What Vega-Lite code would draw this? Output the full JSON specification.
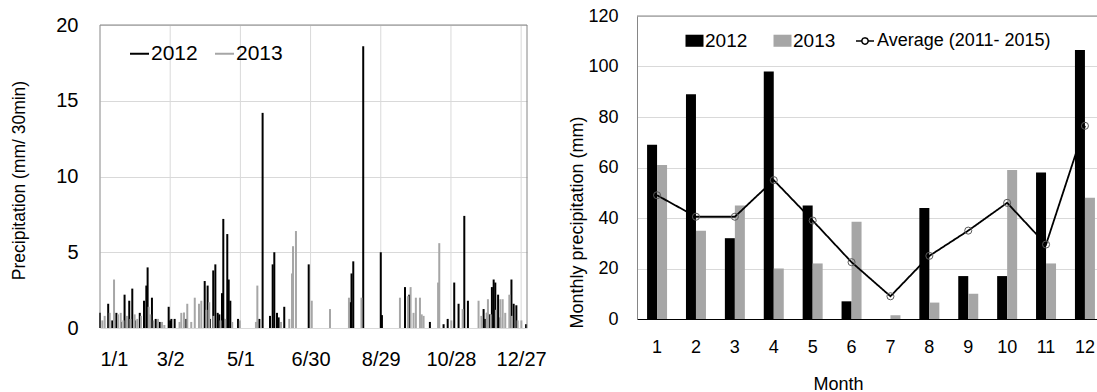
{
 "$schema": "https://vega.github.io/schema/vega-lite/v6.json",
 "padding": {"left": 10, "top": 7, "right": 0, "bottom": 0},
 "config": {
  "font": "Liberation Sans",
  "view": {"stroke": null},
  "axis": {"labelColor": "#000", "titleColor": "#000", "titleFontWeight": "normal", "ticks": false, "gridColor": "#d9d9d9", "gridWidth": 1},
  "legend": {"labelColor": "#000"}
 },
 "datasets": {
  "spikes": [
   {"d":0,"v":1.0,"yr":"2012"},{"d":7,"v":1.6,"yr":"2012"},{"d":10.5,"v":0.5,"yr":"2012"},{"d":14,"v":1.0,"yr":"2012"},{"d":18,"v":0.4,"yr":"2012"},{"d":21,"v":2.2,"yr":"2012"},{"d":25,"v":1.8,"yr":"2012"},{"d":27.6,"v":2.6,"yr":"2012"},{"d":30,"v":0.5,"yr":"2012"},{"d":34,"v":1.0,"yr":"2012"},{"d":37.6,"v":1.8,"yr":"2012"},{"d":39.6,"v":2.8,"yr":"2012"},{"d":40.7,"v":4.0,"yr":"2012"},{"d":44.4,"v":2.0,"yr":"2012"},{"d":47.6,"v":0.6,"yr":"2012"},{"d":51,"v":0.4,"yr":"2012"},{"d":58.7,"v":1.4,"yr":"2012"},{"d":60,"v":0.5,"yr":"2012"},{"d":61,"v":0.6,"yr":"2012"},{"d":63.8,"v":0.6,"yr":"2012"},{"d":71.8,"v":1.0,"yr":"2012"},{"d":73.8,"v":0.6,"yr":"2012"},{"d":89.5,"v":3.1,"yr":"2012"},{"d":92,"v":2.8,"yr":"2012"},{"d":94,"v":0.6,"yr":"2012"},{"d":96.8,"v":3.8,"yr":"2012"},{"d":98.6,"v":4.2,"yr":"2012"},{"d":100.6,"v":1.0,"yr":"2012"},{"d":102,"v":0.9,"yr":"2012"},{"d":104.3,"v":2.3,"yr":"2012"},{"d":105.4,"v":7.2,"yr":"2012"},{"d":106.2,"v":0.6,"yr":"2012"},{"d":108.8,"v":6.2,"yr":"2012"},{"d":110,"v":3.2,"yr":"2012"},{"d":111.4,"v":1.8,"yr":"2012"},{"d":118,"v":0.6,"yr":"2012"},{"d":136.2,"v":0.6,"yr":"2012"},{"d":139,"v":14.2,"yr":"2012"},{"d":145.3,"v":0.8,"yr":"2012"},{"d":147.6,"v":4.2,"yr":"2012"},{"d":149,"v":5.0,"yr":"2012"},{"d":151.3,"v":1.0,"yr":"2012"},{"d":152.7,"v":0.7,"yr":"2012"},{"d":157.5,"v":1.4,"yr":"2012"},{"d":178.4,"v":4.2,"yr":"2012"},{"d":213.8,"v":1.7,"yr":"2012"},{"d":215,"v":3.6,"yr":"2012"},{"d":216.5,"v":4.4,"yr":"2012"},{"d":225,"v":18.6,"yr":"2012"},{"d":240,"v":5.0,"yr":"2012"},{"d":241,"v":0.85,"yr":"2012"},{"d":260.7,"v":2.7,"yr":"2012"},{"d":264.4,"v":2.2,"yr":"2012"},{"d":282,"v":0.4,"yr":"2012"},{"d":293.7,"v":0.25,"yr":"2012"},{"d":297.2,"v":0.6,"yr":"2012"},{"d":302.8,"v":3.0,"yr":"2012"},{"d":306.5,"v":1.6,"yr":"2012"},{"d":311.4,"v":7.4,"yr":"2012"},{"d":314.5,"v":1.8,"yr":"2012"},{"d":327.9,"v":1.25,"yr":"2012"},{"d":329.3,"v":0.6,"yr":"2012"},{"d":331,"v":1.0,"yr":"2012"},{"d":333,"v":0.9,"yr":"2012"},{"d":335,"v":2.7,"yr":"2012"},{"d":336.5,"v":3.2,"yr":"2012"},{"d":337.9,"v":3.0,"yr":"2012"},{"d":340.3,"v":2.2,"yr":"2012"},{"d":342,"v":0.7,"yr":"2012"},{"d":351.7,"v":3.2,"yr":"2012"},{"d":353.6,"v":1.6,"yr":"2012"},{"d":355.9,"v":1.5,"yr":"2012"},{"d":364.2,"v":0.25,"yr":"2012"},
   {"d":2,"v":0.5,"yr":"2013"},{"d":4,"v":0.8,"yr":"2013"},{"d":8.3,"v":1.0,"yr":"2013"},{"d":12,"v":3.2,"yr":"2013"},{"d":15.4,"v":0.9,"yr":"2013"},{"d":17.7,"v":1.0,"yr":"2013"},{"d":20,"v":0.5,"yr":"2013"},{"d":23,"v":0.8,"yr":"2013"},{"d":26,"v":0.6,"yr":"2013"},{"d":29.6,"v":0.9,"yr":"2013"},{"d":31.9,"v":0.6,"yr":"2013"},{"d":35,"v":0.8,"yr":"2013"},{"d":41.6,"v":1.4,"yr":"2013"},{"d":43,"v":0.9,"yr":"2013"},{"d":46,"v":0.5,"yr":"2013"},{"d":49.6,"v":0.6,"yr":"2013"},{"d":53,"v":0.4,"yr":"2013"},{"d":55,"v":0.2,"yr":"2013"},{"d":68,"v":0.4,"yr":"2013"},{"d":69.5,"v":1.0,"yr":"2013"},{"d":71.8,"v":1.0,"yr":"2013"},{"d":74.6,"v":1.6,"yr":"2013"},{"d":78,"v":0.4,"yr":"2013"},{"d":81,"v":2.0,"yr":"2013"},{"d":84.6,"v":1.6,"yr":"2013"},{"d":86.6,"v":1.8,"yr":"2013"},{"d":91,"v":1.2,"yr":"2013"},{"d":93.4,"v":1.7,"yr":"2013"},{"d":97,"v":0.8,"yr":"2013"},{"d":103,"v":0.5,"yr":"2013"},{"d":107,"v":0.6,"yr":"2013"},{"d":113,"v":0.4,"yr":"2013"},{"d":119.5,"v":0.5,"yr":"2013"},{"d":133.3,"v":0.4,"yr":"2013"},{"d":134.5,"v":2.8,"yr":"2013"},{"d":154.7,"v":0.4,"yr":"2013"},{"d":161.8,"v":0.6,"yr":"2013"},{"d":164.1,"v":3.6,"yr":"2013"},{"d":165,"v":5.4,"yr":"2013"},{"d":167.5,"v":6.4,"yr":"2013"},{"d":181,"v":1.8,"yr":"2013"},{"d":196.6,"v":1.25,"yr":"2013"},{"d":212.8,"v":2.0,"yr":"2013"},{"d":223.5,"v":2.0,"yr":"2013"},{"d":256.4,"v":2.0,"yr":"2013"},{"d":263.2,"v":2.1,"yr":"2013"},{"d":265.5,"v":2.7,"yr":"2013"},{"d":268,"v":1.0,"yr":"2013"},{"d":270,"v":2.0,"yr":"2013"},{"d":273.5,"v":2.0,"yr":"2013"},{"d":275,"v":0.9,"yr":"2013"},{"d":276.6,"v":0.8,"yr":"2013"},{"d":289,"v":3.0,"yr":"2013"},{"d":290,"v":5.6,"yr":"2013"},{"d":300.3,"v":0.5,"yr":"2013"},{"d":310,"v":1.25,"yr":"2013"},{"d":323.6,"v":1.8,"yr":"2013"},{"d":326,"v":0.8,"yr":"2013"},{"d":330.5,"v":1.0,"yr":"2013"},{"d":331.6,"v":1.9,"yr":"2013"},{"d":334,"v":0.9,"yr":"2013"},{"d":338.5,"v":1.2,"yr":"2013"},{"d":342.2,"v":1.9,"yr":"2013"},{"d":344.2,"v":1.9,"yr":"2013"},{"d":346.4,"v":1.0,"yr":"2013"},{"d":349.9,"v":2.2,"yr":"2013"},{"d":352,"v":0.8,"yr":"2013"},{"d":357,"v":0.5,"yr":"2013"},{"d":360.2,"v":0.5,"yr":"2013"}
  ],
  "vgrid": [{"d":60},{"d":120},{"d":180},{"d":240},{"d":300},{"d":360}],
  "bars": [
   {"m":1,"yr":"2012","v":69},{"m":2,"yr":"2012","v":89},{"m":3,"yr":"2012","v":32},{"m":4,"yr":"2012","v":98},{"m":5,"yr":"2012","v":45},{"m":6,"yr":"2012","v":7},{"m":7,"yr":"2012","v":0},{"m":8,"yr":"2012","v":44},{"m":9,"yr":"2012","v":17},{"m":10,"yr":"2012","v":17},{"m":11,"yr":"2012","v":58},{"m":12,"yr":"2012","v":106.5},
   {"m":1,"yr":"2013","v":61},{"m":2,"yr":"2013","v":35},{"m":3,"yr":"2013","v":45},{"m":4,"yr":"2013","v":20},{"m":5,"yr":"2013","v":22},{"m":6,"yr":"2013","v":38.5},{"m":7,"yr":"2013","v":1.5},{"m":8,"yr":"2013","v":6.5},{"m":9,"yr":"2013","v":10},{"m":10,"yr":"2013","v":59},{"m":11,"yr":"2013","v":22},{"m":12,"yr":"2013","v":48}
  ],
  "avg": [
   {"m":1,"a":49,"lab":"Average (2011- 2015)"},{"m":2,"a":40.5,"lab":"Average (2011- 2015)"},{"m":3,"a":40.5,"lab":"Average (2011- 2015)"},{"m":4,"a":55,"lab":"Average (2011- 2015)"},{"m":5,"a":39,"lab":"Average (2011- 2015)"},{"m":6,"a":22.5,"lab":"Average (2011- 2015)"},{"m":7,"a":9,"lab":"Average (2011- 2015)"},{"m":8,"a":25,"lab":"Average (2011- 2015)"},{"m":9,"a":35,"lab":"Average (2011- 2015)"},{"m":10,"a":46,"lab":"Average (2011- 2015)"},{"m":11,"a":29.5,"lab":"Average (2011- 2015)"},{"m":12,"a":76.5,"lab":"Average (2011- 2015)"}
  ]
 },
 "resolve": {"scale": {"color": "independent", "strokeDash": "independent"}, "legend": {"color": "independent", "strokeDash": "independent"}},
 "spacing": 21,
 "hconcat": [
  {
   "width": 427, "height": 312,
   "layer": [
    {"data": {"name": "vgrid"}, "mark": {"type": "rule", "color": "#d9d9d9", "strokeWidth": 1},
     "encoding": {"x": {"field": "d", "type": "quantitative"}, "y": {"datum": 20}, "y2": {"datum": 0}}},
    {
     "data": {"name": "spikes"},
     "mark": {"type": "rule", "strokeWidth": 2},
     "encoding": {
      "x": {"field": "d", "type": "quantitative", "scale": {"domain": [0, 365], "nice": false},
            "axis": {"values": [0, 60, 120, 180, 240, 300, 360], "labelExpr": "timeFormat(datetime(2013,0,1+datum.value),'%-m/%-d')", "grid": false, "domain": false, "labelFontSize": 20, "labelPadding": 21, "title": null}},
      "y": {"field": "v", "type": "quantitative", "scale": {"domain": [0, 20], "nice": false, "range": [312, 9]},
            "axis": {"values": [0, 5, 10, 15, 20], "title": "Precipitation (mm/ 30min)", "grid": true, "domain": false, "labelFontSize": 20, "labelPadding": 22, "titleFontSize": 17.5, "titleAngle": 270, "titleX": -81, "titleY": 164, "titleBaseline": "middle", "titleAlign": "center"}},
      "y2": {"datum": 0},
      "color": {"field": "yr", "type": "nominal", "scale": {"domain": ["2012", "2013"], "range": ["#000000", "#a6a6a6"]},
                "legend": {"title": null, "orient": "none", "legendX": 29, "legendY": 27, "direction": "horizontal", "symbolType": "stroke", "symbolSize": 361, "symbolStrokeWidth": 2, "labelFontSize": 21, "labelOffset": 1, "columnPadding": 13, "padding": 0}}
     }
    },
    {"data": {"values": [{}]}, "mark": {"type": "rule", "color": "#868686", "strokeWidth": 1}, "encoding": {"y": {"datum": 20}}},
    {"data": {"values": [{}]}, "mark": {"type": "rule", "color": "#868686", "strokeWidth": 1}, "encoding": {"x": {"datum": 0}, "y": {"datum": 20}, "y2": {"datum": 0}}},
    {"data": {"values": [{}]}, "mark": {"type": "rule", "color": "#868686", "strokeWidth": 1}, "encoding": {"x": {"datum": 365}, "y": {"datum": 20}, "y2": {"datum": 0}}}
   ]
  },
  {
   "width": 460, "height": 303,
   "layer": [
    {
     "data": {"name": "bars"},
     "mark": {"type": "bar"},
     "encoding": {
      "x": {"field": "m", "type": "ordinal", "scale": {"paddingInner": 0.486, "paddingOuter": 0.156, "align": 0.83},
            "axis": {"title": "Month", "labelAngle": 0, "labelFontSize": 18, "labelPadding": 19, "domainColor": "#000000", "titleFontSize": 18, "titleX": 201, "titleY": 65, "titleBaseline": "middle", "grid": false}},
      "xOffset": {"field": "yr", "type": "nominal", "scale": {"paddingInner": 0}},
      "y": {"field": "v", "type": "quantitative", "scale": {"domain": [0, 120], "nice": false},
            "axis": {"values": [0, 20, 40, 60, 80, 100, 120], "title": "Monthly precipitation (mm)", "grid": true, "domainColor": "#868686", "labelFontSize": 18, "labelPadding": 19, "titleFontSize": 18, "titleAngle": 270, "titleX": -60, "titleY": 206, "titleBaseline": "middle", "titleAlign": "center"}},
      "color": {"field": "yr", "type": "nominal", "scale": {"domain": ["2012", "2013"], "range": ["#000000", "#a6a6a6"]},
                "legend": {"title": null, "orient": "none", "legendX": 48, "legendY": 15, "direction": "horizontal", "symbolType": "M-1,-0.67H1V0.67H-1Z", "symbolSize": 324, "symbolStrokeWidth": 0, "labelFontSize": 19, "labelOffset": 1, "columnPadding": 25, "padding": 0}}
     }
    },
    {
     "data": {"name": "avg"},
     "mark": {"type": "line", "color": "#000000", "strokeWidth": 1.8},
     "encoding": {
      "x": {"field": "m", "type": "ordinal"},
      "y": {"field": "a", "type": "quantitative"},
      "strokeDash": {"field": "lab", "type": "nominal", "scale": {"range": [[1, 0]]},
                     "legend": {"title": null, "orient": "none", "legendX": 218, "legendY": 15, "symbolType": "M-1,0H-0.35M0.35,0H1M0.35,0A0.35,0.35,0,1,1,-0.35,0A0.35,0.35,0,1,1,0.35,0", "symbolSize": 324, "symbolStrokeColor": "#000000", "symbolFillColor": "transparent", "symbolStrokeWidth": 1.5, "labelFontSize": 18, "labelOffset": 2, "labelLimit": 400, "padding": 0}}
     }
    },
    {
     "data": {"name": "avg"},
     "mark": {"type": "point", "shape": "circle", "filled": false, "stroke": "#595959", "strokeWidth": 1, "size": 50, "opacity": 1},
     "encoding": {
      "x": {"field": "m", "type": "ordinal"},
      "y": {"field": "a", "type": "quantitative"}
     }
    },
    {"data": {"values": [{}]}, "mark": {"type": "rule", "color": "#868686", "strokeWidth": 1}, "encoding": {"y": {"datum": 120}}}
   ]
  }
 ]
}
